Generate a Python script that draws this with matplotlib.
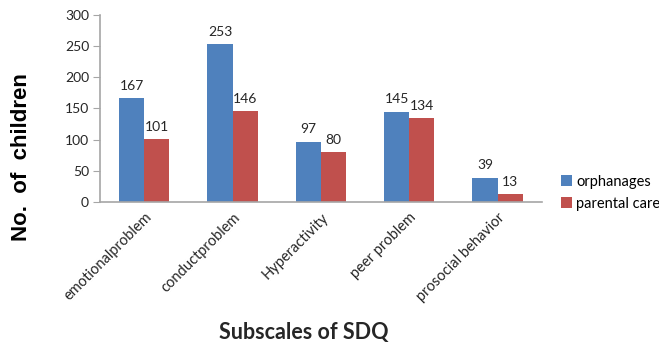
import matplotlib.pyplot as plt
import numpy as np

categories = ["emotionalproblem", "conductproblem", "Hyperactivity",
              "peer problem", "prosocial behavior"]
orphanages = [167, 253, 97, 145, 39]
parental_care = [101, 146, 80, 134, 13]

blue = "#4F81BD"
red = "#C0504D"
axis_gray = "#A6A6A6"
text_color = "#262626"
width = 0.285

fig = plt.figure(figsize=(6.59, 3.46), dpi=100)
ax = fig.add_axes([0.152, 0.416, 0.67, 0.541])

x = np.arange(len(categories))
b1 = ax.bar(x - width / 2, orphanages, width, color=blue, label="orphanages")
b2 = ax.bar(x + width / 2, parental_care, width, color=red, label="parental care")

for bars in (b1, b2):
    for rect in bars:
        ax.annotate(f"{int(rect.get_height())}",
                    (rect.get_x() + rect.get_width() / 2, rect.get_height()),
                    xytext=(0, 4.5), textcoords="offset points",
                    ha="center", va="bottom", fontsize=10,
                    family="Lato", color=text_color)

ax.set_xlim(-0.5, len(categories) - 0.5)
ax.set_ylim(0, 300)
ax.set_yticks(np.arange(0, 301, 50))
ax.set_xticks(x)
ax.set_xticklabels(categories, rotation=45, ha="right", va="top",
                   rotation_mode="anchor", fontsize=10.5, family="Lato",
                   color=text_color)
for lbl in ax.get_yticklabels():
    lbl.set_family("Lato")
    lbl.set_fontsize(10)
    lbl.set_color(text_color)

for side in ("top", "right"):
    ax.spines[side].set_visible(False)
for side in ("left", "bottom"):
    ax.spines[side].set_color(axis_gray)
    ax.spines[side].set_linewidth(1.2)
ax.tick_params(axis="y", length=5, color=axis_gray, pad=3)
ax.tick_params(axis="x", length=0, pad=6)

fig.text(0.033, 0.545, "No.  of  children", rotation=90, fontsize=16,
         fontweight="bold", family="Liberation Sans", ha="center",
         va="center")
fig.text(0.461, 0.04, "Subscales of SDQ", fontsize=15.5, fontweight="bold",
         family="Lato", ha="center", va="center", color=text_color)

ax.legend(loc="center left", bbox_to_anchor=(1.03, 0.05), frameon=False,
          prop={"family": "Lato", "size": 10.5}, handlelength=0.75,
          handleheight=0.75, handletextpad=0.3, labelspacing=0.55,
          borderaxespad=0)

fig.savefig("out.png", dpi=100)
